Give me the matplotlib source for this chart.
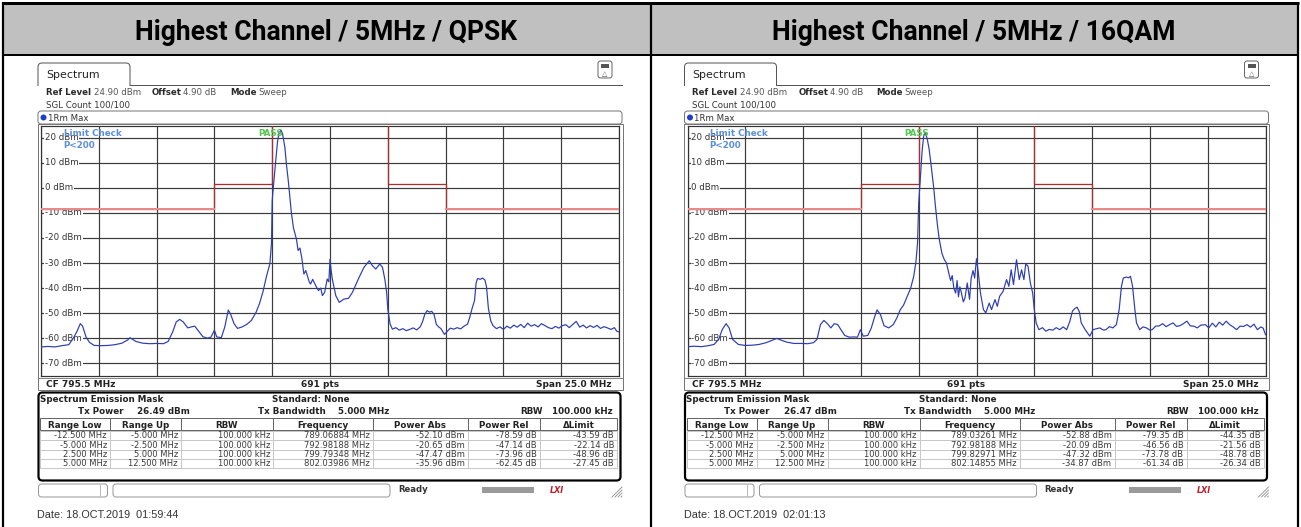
import matplotlib
matplotlib.use("Agg")
import matplotlib.pyplot as plt
from matplotlib.patches import Rectangle, FancyBboxPatch, Circle

# ---------------------------------------------------------------- data
titles = ["Highest Channel / 5MHz / QPSK", "Highest Channel / 5MHz / 16QAM"]
ref_level = 24.9
freq_start, freq_stop = 783.0, 808.0
freq_grid = [783.0, 785.5, 788.0, 790.5, 793.0, 795.5, 798.0, 800.5, 803.0, 805.5, 808.0]
level_grid = [20, 10, 0, -10, -20, -30, -40, -50, -60, -70]

mask_freq_left = [783.0, 790.5, 790.5, 793.0, 793.0]
mask_level_left = [-8.5, -8.5, 1.5, 1.5, 24.9]
mask_freq_right = [798.0, 798.0, 800.5, 800.5, 808.0]
mask_level_right = [24.9, 1.5, 1.5, -8.5, -8.5]

qpsk_freq = [783.0, 783.3, 783.6, 783.9, 784.2, 784.4, 784.55, 784.7, 784.8, 784.95,
             785.1, 785.3, 785.6, 785.9, 786.2, 786.5, 786.75, 786.85, 786.95, 787.1,
             787.4, 787.7, 788.0, 788.3, 788.5, 788.7, 788.85, 789.0, 789.15, 789.35,
             789.5, 789.65, 789.8, 790.0, 790.2, 790.35, 790.5, 790.6, 790.8, 790.95,
             791.1, 791.2, 791.35, 791.5, 791.7, 791.9, 792.1, 792.3, 792.45, 792.6,
             792.75, 792.9, 792.97, 793.0, 793.07, 793.15, 793.23, 793.3, 793.38, 793.45,
             793.55, 793.62, 793.7, 793.77, 793.83, 793.92, 794.05, 794.12, 794.2, 794.28,
             794.37, 794.45, 794.52, 794.6, 794.66, 794.75, 794.88, 795.0, 795.1, 795.17,
             795.27, 795.38, 795.45, 795.5, 795.55, 795.6, 795.75, 795.9, 796.1, 796.3,
             796.47, 796.6, 796.76, 796.97, 797.2, 797.33, 797.48, 797.65, 797.77, 797.87,
             797.95, 798.0, 798.1, 798.2, 798.35, 798.5, 798.65, 798.8, 798.95, 799.1,
             799.25, 799.4, 799.5, 799.6, 799.7, 799.8, 799.9, 800.0, 800.1, 800.2,
             800.3, 800.45, 800.55, 800.7, 800.85, 801.0, 801.15, 801.3, 801.45, 801.55,
             801.65, 801.75, 801.82, 801.88, 802.0, 802.1, 802.2, 802.27, 802.35, 802.45,
             802.55, 802.7, 802.85, 803.0, 803.15, 803.3, 803.45, 803.6, 803.75, 803.9,
             804.05, 804.2, 804.35, 804.5, 804.65, 804.8, 804.95, 805.1, 805.25, 805.4,
             805.55, 805.7, 805.85, 806.0, 806.15, 806.3, 806.45, 806.6, 806.75, 806.9,
             807.05, 807.2, 807.35, 807.5, 807.65, 807.8, 807.9, 808.0]
qpsk_level = [-63.5, -63.3, -63.5, -63.0, -62.6, -60.0, -57.4, -54.2, -55.2, -59.6,
              -61.7, -62.9, -63.0, -62.9, -62.6, -62.0, -60.7, -59.8, -60.4, -61.3,
              -62.0, -62.2, -62.1, -62.2, -61.3, -57.4, -53.5, -52.5, -53.5, -55.9,
              -55.5, -55.2, -57.0, -59.4, -60.0, -59.6, -56.8, -59.5, -59.8, -55.5,
              -48.8, -50.4, -54.2, -56.1, -55.5, -54.5, -52.9, -49.7, -46.2, -41.5,
              -35.4, -30.3, -22.0, -5.0, 2.5, 10.5, 18.5, 22.0, 23.0, 21.5,
              16.0, 9.0, 2.5, -4.0, -10.0, -16.0, -20.5, -25.0, -24.0, -28.0,
              -34.4, -33.0, -35.0, -37.5, -38.4, -36.5, -39.0, -41.0, -40.0, -43.0,
              -41.7, -36.4, -37.5, -28.5, -33.0, -36.4, -43.0, -45.7, -44.4, -44.1,
              -41.7, -39.0, -35.7, -31.7, -29.1, -31.0, -32.4, -30.4, -31.7, -36.4,
              -41.7, -48.4, -54.4, -56.4, -55.8, -56.8, -56.2, -57.0, -56.5, -55.9,
              -56.7, -55.5, -53.5, -50.5, -49.0, -49.6, -49.3, -50.5, -54.5, -55.5,
              -56.2, -58.5, -57.5, -56.0, -56.4, -55.8, -56.3, -55.2, -54.4, -51.5,
              -48.0, -45.0, -38.0, -36.2, -36.5, -36.0, -36.8, -39.5, -48.0, -53.0,
              -55.0, -56.2, -55.5, -56.5, -55.2, -56.0, -54.8, -55.6, -54.5, -55.8,
              -54.0, -55.2, -54.6, -55.5, -54.2, -55.0, -55.8, -56.2, -55.3, -56.0,
              -55.0, -54.6, -55.8, -54.5, -53.3, -55.6, -54.8, -55.9, -55.0, -55.7,
              -54.9, -56.1, -55.4, -55.9, -56.5, -55.8, -57.2, -57.5]

qam_freq = [783.0, 783.3, 783.6, 783.9, 784.15, 784.35, 784.5, 784.67, 784.8, 784.95,
            785.2, 785.5, 785.8, 786.1, 786.4, 786.65, 786.86, 787.05, 787.3, 787.6,
            787.9, 788.2, 788.45, 788.6, 788.75, 788.9, 789.05, 789.2, 789.35, 789.5,
            789.65, 789.8, 790.0, 790.2, 790.35, 790.48, 790.6, 790.8, 790.95, 791.1,
            791.2, 791.35, 791.5, 791.7, 791.9, 792.05, 792.2, 792.35, 792.5, 792.65,
            792.78, 792.88, 792.95, 793.0, 793.07, 793.15, 793.22, 793.3, 793.38, 793.45,
            793.55, 793.65, 793.72, 793.8, 793.88, 794.0, 794.1, 794.2, 794.3, 794.38,
            794.45, 794.52, 794.6, 794.66, 794.72, 794.78, 794.85, 794.93, 795.0, 795.1,
            795.2, 795.27, 795.35, 795.42, 795.5, 795.58, 795.67, 795.8, 795.9, 796.05,
            796.15, 796.3, 796.4, 796.5, 796.65, 796.8, 796.9, 797.0, 797.1, 797.23,
            797.35, 797.45, 797.55, 797.63, 797.73, 797.83, 797.93, 798.0, 798.08, 798.2,
            798.35, 798.5, 798.65, 798.8, 798.95, 799.1, 799.25, 799.4, 799.54, 799.65,
            799.75, 799.85, 799.95, 800.03, 800.2, 800.4, 800.54, 800.7, 800.83, 801.0,
            801.1, 801.25, 801.4, 801.55, 801.67, 801.77, 801.85, 801.98, 802.08, 802.16,
            802.25, 802.35, 802.42, 802.56, 802.7, 802.85, 803.0, 803.1, 803.25, 803.4,
            803.55, 803.7, 803.85, 804.0, 804.15, 804.3, 804.45, 804.6, 804.75, 804.9,
            805.05, 805.2, 805.4, 805.55, 805.7, 805.85, 806.0, 806.15, 806.3, 806.45,
            806.6, 806.75, 806.9, 807.05, 807.2, 807.35, 807.5, 807.65, 807.8, 807.9,
            808.0]
qam_level = [-63.4, -63.2, -63.4, -63.0, -62.5, -60.5, -56.6, -54.2, -55.9, -60.5,
             -62.5, -62.9, -62.8, -62.5, -61.8, -60.9, -60.1, -60.8, -61.6, -62.1,
             -62.1, -62.2, -61.8, -60.5, -54.6, -52.9, -54.2, -55.9, -54.2, -54.6,
             -56.8, -58.9, -59.6, -59.5, -59.6, -56.6, -59.2, -58.9, -55.9, -51.3,
             -48.7, -50.7, -55.0, -55.9, -54.6, -52.0, -48.7, -46.7, -43.4, -40.1,
             -35.5, -29.6, -22.0, -6.0, 4.0, 15.0, 21.0, 22.0, 19.0, 15.5,
             8.0, 0.0, -7.0, -14.0, -20.0, -26.0, -28.5, -30.0, -34.0, -37.0,
             -35.0, -40.0, -42.0, -37.0, -43.5, -39.5, -42.0, -45.5, -44.0, -38.0,
             -44.5, -36.0, -33.0, -36.0, -28.3, -34.0, -41.9, -48.6, -49.9, -46.0,
             -48.6, -44.6, -47.3, -43.3, -41.3, -36.6, -39.3, -32.7, -38.6, -28.7,
             -36.6, -32.7, -36.6, -30.3, -31.3, -38.0, -42.0, -48.6, -53.9, -56.6,
             -55.8, -57.2, -56.5, -56.8, -55.8, -56.6, -55.5, -56.6, -53.2, -49.2,
             -48.2, -47.6, -49.5, -53.9, -56.6, -59.2, -56.6, -56.2, -55.9, -56.8,
             -56.6, -55.4, -55.9, -54.6, -48.6, -39.3, -36.0, -35.6, -35.9, -35.3,
             -39.3, -48.6, -53.9, -56.6, -55.5, -55.9, -56.8, -56.6, -55.2, -55.1,
             -54.2, -55.4, -54.6, -53.9, -55.3, -55.0, -54.2, -53.2, -55.1, -55.2,
             -55.9, -54.8, -54.6, -55.9, -54.0, -55.5, -53.6, -54.8, -53.2, -54.6,
             -55.5, -56.6, -55.2, -55.3, -54.6, -55.6, -54.4, -56.6, -55.5, -56.0,
             -58.6]

traces_freq = [qpsk_freq, qam_freq]
traces_level = [qpsk_level, qam_level]

table_header = ["Range Low", "Range Up", "RBW", "Frequency", "Power Abs", "Power Rel", "\u0394Limit"]
range_low = ["-12.500 MHz", "-5.000 MHz", "2.500 MHz", "5.000 MHz"]
range_up = ["-5.000 MHz", "-2.500 MHz", "5.000 MHz", "12.500 MHz"]
range_rbw = ["100.000 kHz", "100.000 kHz", "100.000 kHz", "100.000 kHz"]
qpsk_peak_freq = ["789.06884 MHz", "792.98188 MHz", "799.79348 MHz", "802.03986 MHz"]
qpsk_power_abs = ["-52.10 dBm", "-20.65 dBm", "-47.47 dBm", "-35.96 dBm"]
qpsk_power_rel = ["-78.59 dB", "-47.14 dB", "-73.96 dB", "-62.45 dB"]
qpsk_delta_limit = ["-43.59 dB", "-22.14 dB", "-48.96 dB", "-27.45 dB"]
qam_peak_freq = ["789.03261 MHz", "792.98188 MHz", "799.82971 MHz", "802.14855 MHz"]
qam_power_abs = ["-52.88 dBm", "-20.09 dBm", "-47.32 dBm", "-34.87 dBm"]
qam_power_rel = ["-79.35 dB", "-46.56 dB", "-73.78 dB", "-61.34 dB"]
qam_delta_limit = ["-44.35 dB", "-21.56 dB", "-48.78 dB", "-26.34 dB"]
tx_power = ["26.49 dBm", "26.47 dBm"]
dates = ["Date: 18.OCT.2019  01:59:44", "Date: 18.OCT.2019  02:01:13"]

tables = [
    [range_low, range_up, range_rbw, qpsk_peak_freq, qpsk_power_abs, qpsk_power_rel, qpsk_delta_limit],
    [range_low, range_up, range_rbw, qam_peak_freq, qam_power_abs, qam_power_rel, qam_delta_limit],
]

# ---------------------------------------------------------------- layout
W, H = 1301, 527
fig = plt.figure(figsize=(W / 100, H / 100), dpi=100)
fig.patch.set_facecolor("white")

bg = fig.add_axes([0, 0, 1, 1])
bg.set_xlim(0, W)
bg.set_ylim(H, 0)
bg.axis("off")

SF = "DejaVu Sans"
TITLE_FONT = ["Roboto", "DejaVu Sans"]
TXT = "#2a2a2a"


def px(p):
    return p * 0.72


def T(ax, x, y, s, size, weight="normal", ha="left", va="baseline", color=TXT, family=SF, **kw):
    ax.text(x, y, s, fontsize=px(size), fontweight=weight, ha=ha, va=va, color=color,
            family=family, **kw)


# outer table frame / header
bg.add_patch(Rectangle((3, 3), 1295, 52, fc="#c0c0c0", ec="none"))
for xx in (3, 651, 1298):
    bg.plot([xx, xx], [2, 527], color="black", lw=px(2.2), solid_capstyle="butt")
bg.plot([2, 1299], [3, 3], color="black", lw=px(3), solid_capstyle="butt")
bg.plot([2, 1299], [55, 55], color="black", lw=px(2), solid_capstyle="butt")
for i, cx in enumerate((326, 974)):
    T(bg, cx, 39.5, titles[i], 26.5, weight="bold", ha="center", color="black", family=TITLE_FONT)

PLOT_L, PLOT_R, PLOT_T, PLOT_B = 41.0, 619.0, 125.5, 376.0
OFFSETS = [0.0, 646.5]

plot_axes = []
for k, dx in enumerate(OFFSETS):
    # ---- window chrome
    bg.add_patch(FancyBboxPatch((38 + dx, 63), 92, 30, boxstyle="round,pad=0,rounding_size=4",
                                fc="white", ec="#555555", lw=px(1.0)))
    bg.add_patch(Rectangle((37 + dx, 85.5), 600, 12, fc="white", ec="none"))
    bg.plot([130 + dx, 622 + dx], [85, 85], color="#555555", lw=px(1.0))
    T(bg, 46 + dx, 78, "Spectrum", 11, color="#222222")
    bg.add_patch(FancyBboxPatch((598 + dx, 61), 14, 17, boxstyle="round,pad=0,rounding_size=2.5",
                                fc="white", ec="#666666", lw=px(1.0)))
    bg.add_patch(Rectangle((601 + dx, 64), 8, 3.5, fc="#555555", ec="none"))
    T(bg, 605 + dx, 76.5, "\u25b3", 7, ha="center", color="#555555")
    T(bg, 46 + dx, 95, "Ref Level", 8.6, weight="bold")
    T(bg, 94 + dx, 95, "24.90 dBm", 8.6, color="#555555")
    T(bg, 152 + dx, 95, "Offset", 8.6, weight="bold")
    T(bg, 183 + dx, 95, "4.90 dB", 8.6, color="#555555")
    T(bg, 230 + dx, 95, "Mode", 8.6, weight="bold")
    T(bg, 258 + dx, 95, "Sweep", 8.6, color="#555555")
    T(bg, 46 + dx, 107, "SGL Count 100/100", 8.6, color="#333333")
    bg.add_patch(FancyBboxPatch((38 + dx, 111), 584, 13, boxstyle="round,pad=0,rounding_size=3",
                                fc="white", ec="#777777", lw=px(1.0)))
    bg.add_patch(Circle((43.5 + dx, 117.5), 3.0, fc="#1f3fc8", ec="none"))
    T(bg, 47.5 + dx, 121, "1Rm Max", 8.6, color="#333333")
    bg.add_patch(Rectangle((37.5 + dx, 124), 585, 266, fc="white", ec="#777777", lw=px(1.0)))
    bg.plot([38 + dx, 622 + dx], [377.5, 377.5], color="#888888", lw=px(1.0))
    T(bg, 46 + dx, 387, "CF 795.5 MHz", 9, weight="bold", color="#222222")
    T(bg, 320 + dx, 387, "691 pts", 9, weight="bold", ha="center", color="#222222")
    T(bg, 612 + dx, 387, "Span 25.0 MHz", 9, weight="bold", ha="right", color="#222222")

    # ---- SEM table
    bg.add_patch(FancyBboxPatch((38.5 + dx, 392.5), 582, 88, boxstyle="round,pad=0,rounding_size=4",
                                fc="white", ec="black", lw=px(2.2)))
    T(bg, 40 + dx, 402.5, "Spectrum Emission Mask", 8.8, weight="bold", color="#222222")
    T(bg, 311 + dx, 402.5, "Standard: None", 8.8, weight="bold", ha="center", color="#222222")
    T(bg, 78 + dx, 413.5, "Tx Power", 8.8, weight="bold", color="#222222")
    T(bg, 137 + dx, 413.5, tx_power[k], 8.8, weight="bold", color="#222222")
    T(bg, 258 + dx, 413.5, "Tx Bandwidth", 8.8, weight="bold", color="#222222")
    T(bg, 338 + dx, 413.5, "5.000 MHz", 8.8, weight="bold", color="#222222")
    T(bg, 520 + dx, 413.5, "RBW", 8.8, weight="bold", color="#222222")
    T(bg, 552 + dx, 413.5, "100.000 kHz", 8.8, weight="bold", color="#222222")

    col_edges = [40, 110, 181, 273, 373, 468, 540, 617]
    bg.add_patch(Rectangle((col_edges[0] + dx, 418), col_edges[-1] - col_edges[0], 12,
                           fc="white", ec="#666666", lw=px(1.0)))
    for c in range(7):
        x0, x1 = col_edges[c] + dx, col_edges[c + 1] + dx
        if c > 0:
            bg.plot([x0, x0], [418, 430], color="#666666", lw=px(1.0))
        T(bg, (x0 + x1) / 2, 427.5, table_header[c], 8.8, weight="bold", ha="center", color="#222222")
    row_tops = [431, 440.3, 449.6, 458.9, 468.2]
    for r in range(4):
        bg.add_patch(Rectangle((col_edges[0] + dx, row_tops[r]), col_edges[-1] - col_edges[0],
                               row_tops[r + 1] - row_tops[r], fc="white", ec="#c8c8c8", lw=px(1.0)))
        for c in range(7):
            x1 = col_edges[c + 1] + dx
            if c > 0:
                bg.plot([col_edges[c] + dx] * 2, [row_tops[r], row_tops[r + 1]], color="#c8c8c8", lw=px(1.0))
            T(bg, x1 - 3, row_tops[r + 1] - 2, tables[k][c][r], 8.4, ha="right", color="#3a3a3a")

    # ---- status bar
    bg.add_patch(FancyBboxPatch((38.5 + dx, 484), 69, 13, boxstyle="round,pad=0,rounding_size=3",
                                fc="white", ec="#999999", lw=px(1.0)))
    bg.plot([100 + dx, 100 + dx], [485, 496], color="#bbbbbb", lw=px(1.0))
    bg.add_patch(FancyBboxPatch((113 + dx, 484), 277, 13, boxstyle="round,pad=0,rounding_size=3",
                                fc="white", ec="#999999", lw=px(1.0)))
    T(bg, 398 + dx, 492, "Ready", 8.5, weight="bold", color="#333333")
    bg.add_patch(Rectangle((482 + dx, 486.5), 52, 6, fc="#9a9a9a", ec="none"))
    T(bg, 557 + dx, 493, "LXI", 8, weight="bold", ha="center", color="#c0202a", style="italic")
    for j in range(4):
        bg.plot([612 + dx + j * 3, 622 + dx], [497, 487 + j * 3], color="#888888", lw=px(0.8))

    T(bg, 37 + dx, 518, dates[k], 10.9, color="#333333", family="Liberation Sans")

    # ---- diagram
    ax = fig.add_axes([(PLOT_L + dx) / W, 1 - PLOT_B / H, (PLOT_R - PLOT_L) / W, (PLOT_B - PLOT_T) / H])
    ax.set_xlim(freq_start, freq_stop)
    ax.set_ylim(ref_level - 100, ref_level)
    ax.set_xticks(freq_grid)
    ax.set_yticks(level_grid)
    ax.tick_params(length=0, labelbottom=False, labelleft=False)
    ax.grid(True, color="#3c3c3c", lw=px(1.2))
    for sp in ax.spines.values():
        sp.set_color("#333333")
        sp.set_linewidth(px(1.2))
    for lv in level_grid:
        ax.text(783.17, lv, f"{lv} dBm", fontsize=px(8.6), va="center", ha="left", color="#333333",
                family=SF, zorder=3,
                bbox=dict(fc="white", ec="none", pad=0.6))
    ax.plot(mask_freq_left, mask_level_left, color="#a83030", lw=px(1.3), zorder=4, clip_on=True)
    ax.plot(mask_freq_right, mask_level_right, color="#a83030", lw=px(1.3), zorder=4, clip_on=True)
    ax.plot(mask_freq_left[:2], mask_level_left[:2], color="#e88a8a", lw=px(2.0), zorder=4)
    ax.plot(mask_freq_right[-2:], mask_level_right[-2:], color="#e88a8a", lw=px(2.0), zorder=4)
    ax.plot(traces_freq[k], traces_level[k], color="#2e3eb0", lw=px(1.2), zorder=5)
    plot_axes.append(ax)

fg = fig.add_axes([0, 0, 1, 1])
fg.set_xlim(0, W)
fg.set_ylim(H, 0)
fg.axis("off")
fg.patch.set_alpha(0)
for dx in OFFSETS:
    T(fg, 64 + dx, 135.5, "Limit Check", 8.8, weight="bold", color="#5b8fd8")
    T(fg, 63 + dx, 148, "P<200", 8.8, weight="bold", color="#5b8fd8")
    T(fg, 258 + dx, 135.5, "PASS", 8.8, weight="bold", color="#52c552")

fig.savefig("out.png", dpi=100, facecolor="white")
